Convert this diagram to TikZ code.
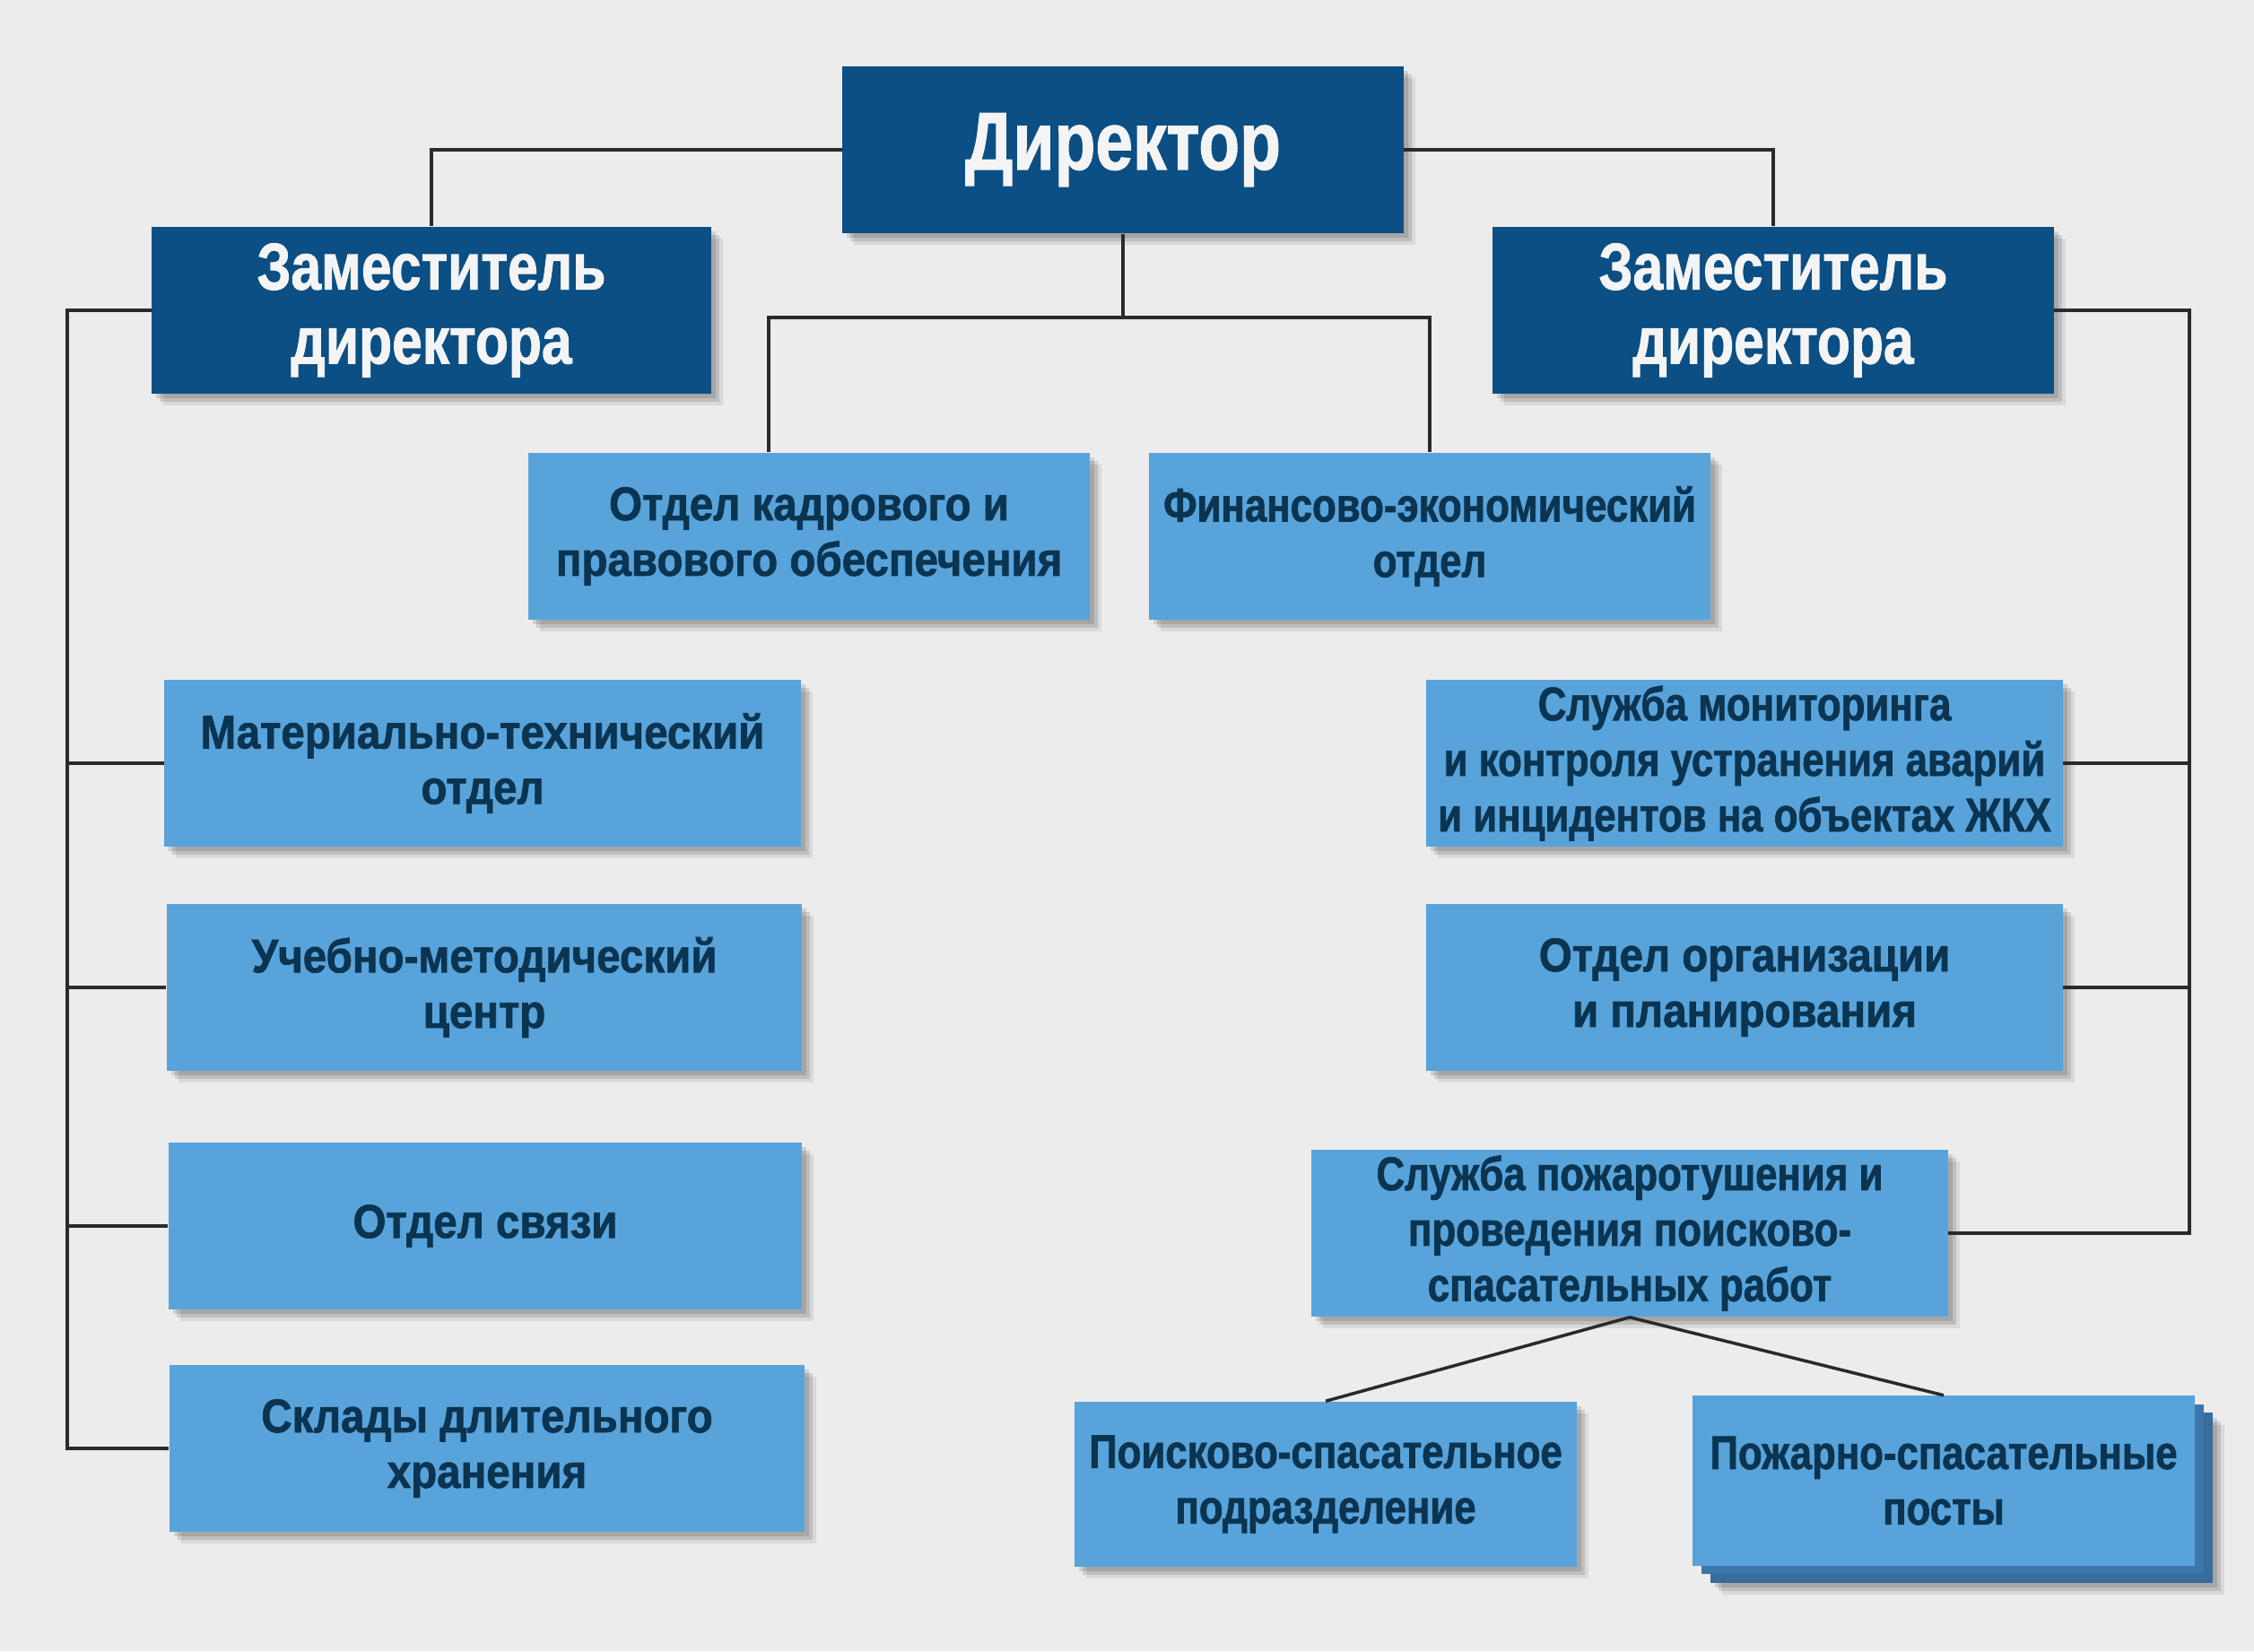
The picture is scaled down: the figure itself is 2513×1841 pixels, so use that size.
\documentclass[tikz,border=0pt]{standalone}
\usepackage{fontspec}
\newfontfamily\imp{Liberation Sans Bold}[FakeStretch=0.82,FakeBold=1.2]
\newfontfamily\impW{Liberation Sans Bold}[FakeStretch=0.90,FakeBold=1.3]
\newfontfamily\impN{Liberation Sans Bold}[FakeStretch=0.83,FakeBold=1.3]
\usetikzlibrary{shadows}
\definecolor{bgc}{HTML}{ECECEC}
\definecolor{dkblue}{HTML}{0B4F84}
\definecolor{ltblue}{HTML}{58A3DA}
\definecolor{txtdk}{HTML}{0A3450}
\definecolor{txtwh}{HTML}{F4F4F4}
\definecolor{stackA}{HTML}{3D76AA}
\definecolor{stackB}{HTML}{386C9A}
\definecolor{linec}{HTML}{2A2A2A}
\tikzset{
  shad/.style={
    drop shadow={shadow xshift=0.05cm,shadow yshift=-0.05cm,opacity=0.12,fill=black},
    drop shadow={shadow xshift=0.09cm,shadow yshift=-0.09cm,opacity=0.12,fill=black},
    drop shadow={shadow xshift=0.13cm,shadow yshift=-0.13cm,opacity=0.08,fill=black}},
  darkbox/.style={shad,rectangle,fill=dkblue,text=txtwh,inner sep=0pt,align=center,font=\imp\fontsize{21}{23.5}\selectfont},
  lightbox/.style={shad,rectangle,fill=ltblue,text=txtdk,inner sep=0pt,align=center,font=\impW\fontsize{15}{17.6}\selectfont},
  narrowtext/.style={font=\impN\fontsize{15}{17.6}\selectfont},
  conn/.style={draw=linec,line width=1pt}
}
\begin{document}
\begin{tikzpicture}[x=0.01cm,y=-0.01cm]
\fill[bgc] (0,0) rectangle (2513,1841);
\useasboundingbox (0,0) rectangle (2513,1841);
% nodes
\node[darkbox,minimum width=6.25cm,minimum height=1.86cm,font=\imp\fontsize{26}{30}\selectfont] (dir) at (1252,167) {Директор};
\node[darkbox,minimum width=6.23cm,minimum height=1.86cm] (depL) at (481,346) {Заместитель\\директора};
\node[darkbox,minimum width=6.25cm,minimum height=1.86cm] (depR) at (1977,346) {Заместитель\\директора};
\node[lightbox,minimum width=6.25cm,minimum height=1.86cm] (kadr) at (902,598) {Отдел кадрового и\\правового обеспечения};
\node[lightbox,narrowtext,minimum width=6.25cm,minimum height=1.86cm] (fin) at (1594,598) {Финансово-экономический\\отдел};
\node[lightbox,minimum width=7.09cm,minimum height=1.86cm] (mat) at (538,851) {Материально-технический\\отдел};
\node[lightbox,minimum width=7.08cm,minimum height=1.86cm] (uch) at (540,1101) {Учебно-методический\\центр};
\node[lightbox,minimum width=7.06cm,minimum height=1.86cm] (svz) at (541,1367) {Отдел связи};
\node[lightbox,minimum width=7.08cm,minimum height=1.85cm] (skl) at (543,1615) {Склады длительного\\хранения};
\node[lightbox,narrowtext,minimum width=7.09cm,minimum height=1.86cm] (mon) at (1945,851) {Служба мониторинга\\и контроля устранения аварий\\и инцидентов на объектах ЖКХ};
\node[lightbox,minimum width=7.09cm,minimum height=1.86cm] (org) at (1945,1101) {Отдел организации\\и планирования};
\node[lightbox,narrowtext,minimum width=7.09cm,minimum height=1.86cm] (poz) at (1817,1375) {Служба пожаротушения и\\проведения поисково-\\спасательных работ};
\node[lightbox,narrowtext,minimum width=5.59cm,minimum height=1.84cm] (poisk) at (1478,1655) {Поисково-спасательное\\подразделение};
\node[rectangle,fill=ltblue,text=txtdk,inner sep=0pt,align=center,narrowtext,
  drop shadow={shadow xshift=0.25cm,shadow yshift=-0.24cm,opacity=0.12,fill=black},
  drop shadow={shadow xshift=0.29cm,shadow yshift=-0.28cm,opacity=0.12,fill=black},
  drop shadow={shadow xshift=0.33cm,shadow yshift=-0.32cm,opacity=0.08,fill=black},
  copy shadow={shadow xshift=0.2cm,shadow yshift=-0.19cm,fill=stackB,draw=none,opacity=1},
  copy shadow={shadow xshift=0.1cm,shadow yshift=-0.095cm,fill=stackA,draw=none,opacity=1},
  minimum width=5.6cm,minimum height=1.89cm] (posts) at (2167,1651) {Пожарно-спасательные\\посты};
% coordinates for spines
\coordinate (lsp) at (75,346);
\coordinate (rsp) at (2441,346);
\coordinate (bus) at (1252,354);
% connectors
\draw[conn] (dir.west) -| (depL.north);
\draw[conn] (dir.east) -| (depR.north);
\draw[conn] (dir.south) -- (bus);
\draw[conn] (kadr.north -| 857,0) -- (bus -| 857,0) -- (bus -| fin.north) -- (fin.north);
\draw[conn] (depL.west) -| (skl.west -| lsp) -- (skl.west);
\draw[conn] (mat.west -| lsp) -- (mat.west);
\draw[conn] (uch.west -| lsp) -- (uch.west);
\draw[conn] (svz.west -| lsp) -- (svz.west);
\draw[conn] (depR.east) -| (poz.east -| rsp) -- (poz.east);
\draw[conn] (mon.east -| rsp) -- (mon.east);
\draw[conn] (org.east -| rsp) -- (org.east);
\draw[conn] (poz.south) -- (poisk.north);
\draw[conn] (poz.south) -- (posts.north);
\end{tikzpicture}
\end{document}
